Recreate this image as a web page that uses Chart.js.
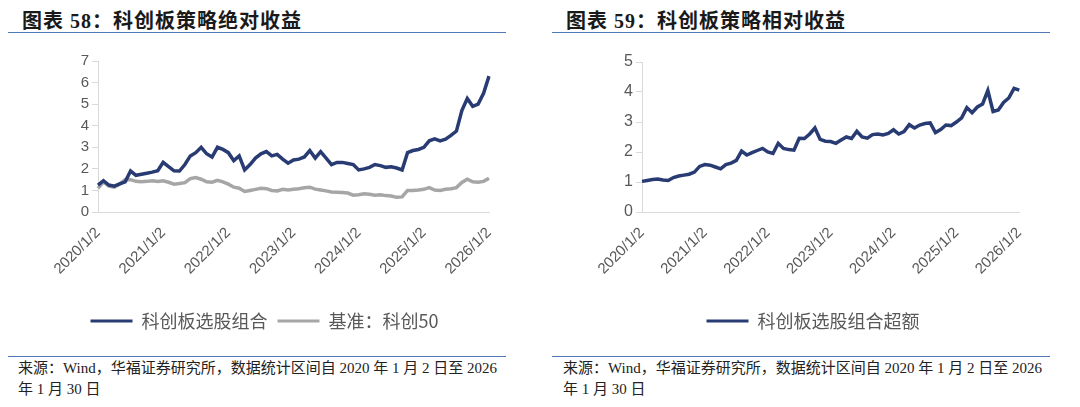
<!DOCTYPE html>
<html>
<head>
<meta charset="utf-8">
<script src="https://cdn.jsdelivr.net/npm/chart.js@4.4.1/dist/chart.umd.min.js"></script>
<style>
  body { margin: 0; width: 1080px; height: 407px; background: #fff; position: relative; overflow: hidden;
         font-family: "Liberation Serif", "Noto Sans CJK SC", serif; }
  .title { position: absolute; top: 5px; font-size: 20px; font-weight: bold; color: #1a1a1a; letter-spacing: 1px; white-space: nowrap; }
  .rule { position: absolute; height: 1px; background: #4f78b8; }
  .src { position: absolute; top: 358px; font-size: 15px; line-height: 21px; color: #222; white-space: nowrap; }
  canvas { position: absolute; }
</style>
</head>
<body>
<div class="title" style="left:22px">图表 58：科创板策略绝对收益</div>
<div class="rule" style="left:8px;width:498px;top:32px"></div>
<div class="title" style="left:566px">图表 59：科创板策略相对收益</div>
<div class="rule" style="left:552px;width:498px;top:32px"></div>

<canvas id="absChart" width="528" height="300" style="left:0;top:40px"></canvas>
<canvas id="relChart" width="452" height="300" style="left:584px;top:40px"></canvas>

<div class="rule" style="left:8px;width:498px;top:356px"></div>
<div class="rule" style="left:552px;width:498px;top:356px"></div>
<div class="src" style="left:18px">来源：Wind，华福证券研究所，数据统计区间自 2020 年 1 月 2 日至 2026<br>年 1 月 30 日</div>
<div class="src" style="left:563px">来源：Wind，华福证券研究所，数据统计区间自 2020 年 1 月 2 日至 2026<br>年 1 月 30 日</div>

<script>
// 月度采样（每月一个点），x轴只显示每年 1/2
const months = [
  '2020/1/2','2020/2','2020/3','2020/4','2020/5','2020/6','2020/7','2020/8','2020/9','2020/10','2020/11','2020/12',
  '2021/1/2','2021/2','2021/3','2021/4','2021/5','2021/6','2021/7','2021/8','2021/9','2021/10','2021/11','2021/12',
  '2022/1/2','2022/2','2022/3','2022/4','2022/5','2022/6','2022/7','2022/8','2022/9','2022/10','2022/11','2022/12',
  '2023/1/2','2023/2','2023/3','2023/4','2023/5','2023/6','2023/7','2023/8','2023/9','2023/10','2023/11','2023/12',
  '2024/1/2','2024/2','2024/3','2024/4','2024/5','2024/6','2024/7','2024/8','2024/9','2024/10','2024/11','2024/12',
  '2025/1/2','2025/2','2025/3','2025/4','2025/5','2025/6','2025/7','2025/8','2025/9','2025/10','2025/11','2025/12',
  '2026/1/2'
];

// 科创板选股组合（绝对）
const portfolio = [
  1.25,1.45,1.25,1.2,1.3,1.4,1.9,1.7,1.75,1.8,1.85,1.91,
  2.3,2.1,1.91,1.9,2.2,2.6,2.75,3.0,2.7,2.55,3.0,2.9,
  2.75,2.38,2.6,1.95,2.2,2.5,2.7,2.8,2.6,2.67,2.45,2.26,
  2.41,2.45,2.55,2.85,2.5,2.8,2.5,2.2,2.3,2.3,2.25,2.2,
  1.95,2.0,2.07,2.2,2.15,2.07,2.1,2.04,1.95,2.75,2.85,2.9,
  3.0,3.3,3.39,3.3,3.38,3.55,3.75,4.7,5.26,4.9,5.0,5.5,
  6.3
];

// 基准：科创50
const benchmark = [
  1.1,1.4,1.2,1.15,1.3,1.5,1.5,1.42,1.4,1.42,1.45,1.42,
  1.45,1.38,1.29,1.32,1.36,1.55,1.6,1.52,1.4,1.38,1.47,1.4,
  1.29,1.15,1.1,0.95,1.0,1.05,1.1,1.08,1.0,0.98,1.05,1.02,
  1.05,1.08,1.12,1.15,1.06,1.02,0.98,0.93,0.92,0.9,0.88,0.78,
  0.8,0.85,0.82,0.78,0.8,0.76,0.74,0.68,0.7,1.0,1.0,1.02,
  1.05,1.13,1.02,1.0,1.05,1.08,1.13,1.37,1.52,1.4,1.38,1.42,
  1.57
];

// 科创板选股组合超额
const excess = [
  1.02,1.05,1.08,1.1,1.07,1.05,1.15,1.2,1.23,1.26,1.33,1.52,
  1.58,1.56,1.5,1.44,1.58,1.63,1.72,2.03,1.9,1.98,2.05,2.12,
  2.0,1.95,2.29,2.12,2.08,2.06,2.46,2.45,2.6,2.8,2.42,2.36,
  2.35,2.29,2.4,2.5,2.45,2.69,2.5,2.46,2.58,2.6,2.57,2.62,
  2.74,2.6,2.68,2.91,2.8,2.9,2.95,2.97,2.65,2.75,2.9,2.88,
  3.0,3.14,3.48,3.31,3.5,3.6,4.05,3.35,3.4,3.65,3.8,4.12,
  4.06
];

const navy = '#283b72';
const grey = '#a6a6a6';
const axisGrey = '#d9d9d9';
const tickText = '#595959';

function lineLegend(chart) {
  const items = Chart.defaults.plugins.legend.labels.generateLabels(chart);
  items.forEach(it => { it.lineWidth = 0; });
  return items;
}

function makeChart(id, datasets, yMax, yFont, yWidth, pad) {
  return new Chart(document.getElementById(id), {
    type: 'line',
    data: { labels: months, datasets: datasets },
    options: {
      responsive: false,
      animation: false,
      layout: { padding: pad },
      elements: { point: { radius: 0 }, line: { tension: 0 } },
      plugins: {
        tooltip: { enabled: false },
        legend: {
          position: 'bottom',
          labels: {
            boxWidth: 42, boxHeight: 3, padding: 10, color: tickText,
            font: { family: '"Noto Sans CJK SC", sans-serif', size: 18 },
            generateLabels: lineLegend
          }
        }
      },
      scales: {
        x: {
          grid: { display: false },
          border: { display: true, color: axisGrey, width: 1 },
          afterFit: s => { s.height = 90; },
          ticks: {
            autoSkip: false, minRotation: 45, maxRotation: 45, padding: 4,
            color: tickText, font: { family: '"Liberation Sans", Arial', size: 15 },
            callback: function(v, i) { return months[i].endsWith('/1/2') ? months[i] : null; }
          }
        },
        y: {
          min: 0, max: yMax,
          grid: { drawOnChartArea: false, color: axisGrey, tickLength: 6 },
          border: { display: true, color: axisGrey, width: 1 },
          afterFit: s => { s.width = yWidth; },
          ticks: {
            stepSize: 1, padding: 3, color: tickText,
            font: { family: '"Liberation Sans", Arial', size: yFont }
          }
        }
      }
    }
  });
}

makeChart('absChart', [
  { label: '科创板选股组合', data: portfolio, borderColor: navy, backgroundColor: navy, borderWidth: 3.5 },
  { label: '基准：科创50', data: benchmark, borderColor: grey, backgroundColor: grey, borderWidth: 3.5 }
], 7, 15, 58, { left: 40, right: 39, top: 21, bottom: 0 });

makeChart('relChart', [
  { label: '科创板选股组合超额', data: excess, borderColor: navy, backgroundColor: navy, borderWidth: 3.5 }
], 5, 16, 50, { left: 8, right: 2, top: 22, bottom: 0 });
</script>
</body>
</html>
